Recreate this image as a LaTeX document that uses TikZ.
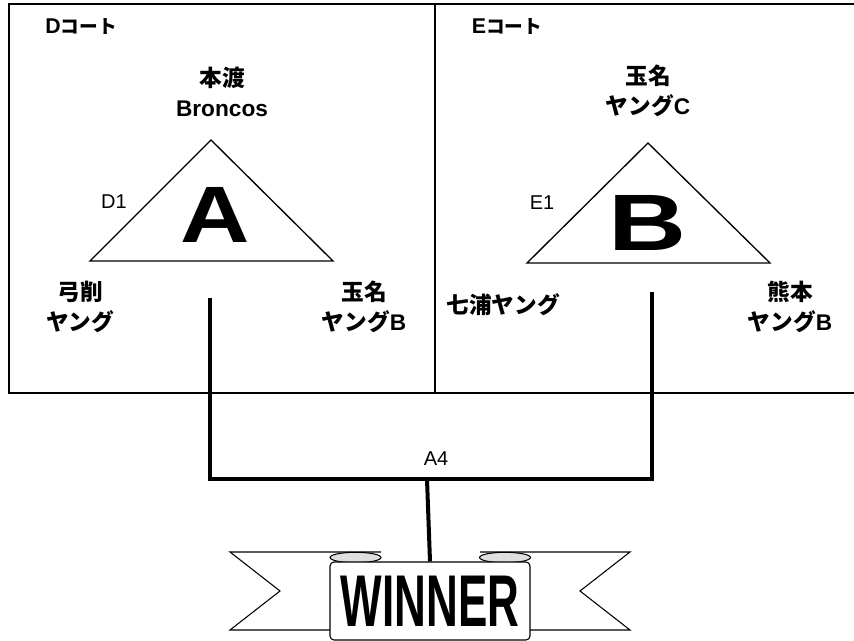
\documentclass[tikz,border=0pt]{standalone}
\usepackage{fontspec}
\setmainfont{Liberation Sans}
\newfontfamily\jp{Noto Sans CJK JP}
\usetikzlibrary{calc}

\tikzset{
  team/.style={font=\fontsize{17}{22}\selectfont\bfseries, align=center, inner sep=0pt},
  court/.style={font=\fontsize{16}{18}\selectfont\bfseries, inner sep=0pt},
  pool/.style={font=\fontsize{15}{17}\selectfont, inner sep=0pt},
  big/.style={font=\fontsize{60}{60}\selectfont\bfseries, inner sep=0pt},
  bracket/.style={line width=3pt},
  ribbon/.style={line width=0.8pt, fill=white},
}

\begin{document}
\begin{tikzpicture}[x=0.75pt,y=-0.75pt]
  \useasboundingbox (0,0) rectangle (854,641);
  %COURTS
  \draw[line width=1.5pt] (854,4) -- (9,4) -- (9,393) -- (854,393);
  \draw[line width=1.5pt] (435,4) -- (435,393);
  \node[court] (Dc) at (81,27) {D{\jp\fontsize{14}{16}\selectfont コート}};
  \node[court] (Ec) at (507,27) {E{\jp\fontsize{14}{16}\selectfont コート}};
  %TRIANGLE D
  \coordinate (Dt) at (211,140);
  \coordinate (Dl) at (90,261);
  \coordinate (Dr) at (333,261);
  \draw[line width=1pt] (Dt) -- (Dl) -- (Dr) -- cycle;
  \node[big] (A) at (215,215) {\scalebox{1.2}[1]{A}};
  \node[pool] (D1) at (114,202) {D1};
  \node[team] (Dtop) at (222,92) {{\jp 本渡}\\Broncos};
  \node[team] (Dleft) at (80,307) {{\jp 弓削}\\{\jp ヤング}};
  \node[team] (Dright) at (364,307) {{\jp 玉名}\\{\jp ヤング}B};
  %TRIANGLE E
  \coordinate (Et) at (648,143);
  \coordinate (El) at (527,263);
  \coordinate (Er) at (770,263);
  \draw[line width=1pt] (Et) -- (El) -- (Er) -- cycle;
  \node[big] (B) at (647,223) {\scalebox{1.35}[1]{B}};
  \node[pool] (E1) at (542,203) {E1};
  \node[team] (Etop) at (648,91) {{\jp 玉名}\\{\jp ヤング}C};
  \node[team] (Eleft) at (503,305) {{\jp 七浦ヤング}};
  \node[team] (Eright) at (790,307) {{\jp 熊本}\\{\jp ヤング}B};
  %RIBBON
  \draw[ribbon] (381,552) -- (230,552) -- (280,591) -- (230,630) -- (340,630);
  \draw[ribbon] (480,552) -- (630,552) -- (580,591) -- (630,630) -- (520,630);
  \draw[ribbon, fill=gray!25] (355.5,557.5) ellipse [x radius=19.1pt, y radius=3.9pt];
  \draw[ribbon, fill=gray!25] (505,557.5) ellipse [x radius=19.1pt, y radius=3.9pt];
  \node[ribbon, draw, minimum width=150pt, minimum height=58.5pt, inner sep=0pt,
        rounded corners=3pt] (W) at (430,601)
        {\scalebox{0.6}[1]{\fontsize{55}{55}\selectfont\bfseries WINNER}};
  %BRACKET
  \coordinate (pD) at (210,298);
  \coordinate (pE) at (652,292);
  \coordinate (jD) at (210,479);
  \coordinate (jE) at (652,479);
  \coordinate (jM) at (427,479);
  \draw[bracket] (pD) -- (jD) -- (jE) -- (pE);
  \draw[bracket] (jM) -- (W.north);
  \node[pool] (A4) at (436,459) {A4};
\end{tikzpicture}
\end{document}
